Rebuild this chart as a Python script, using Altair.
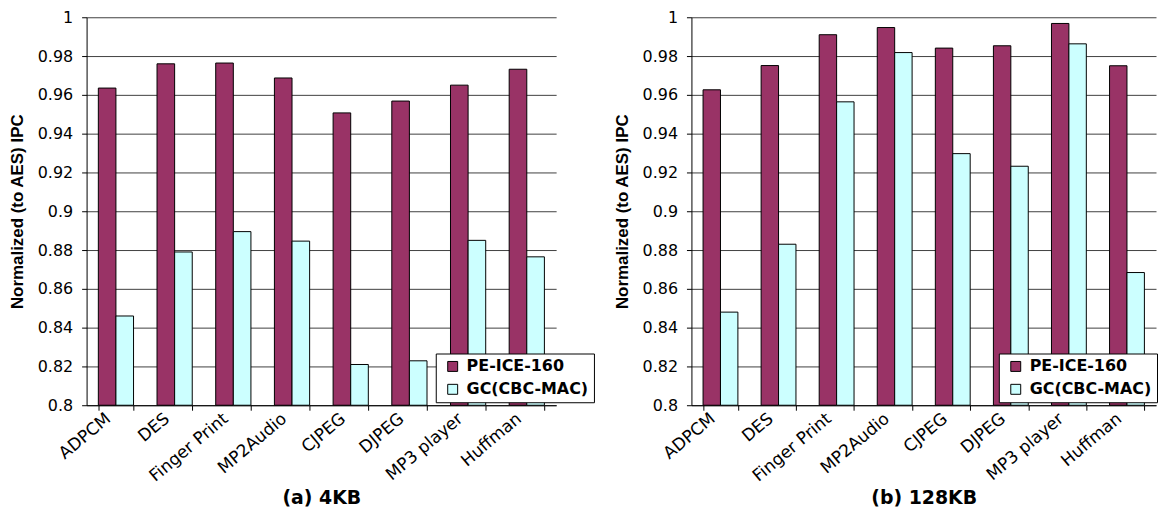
import altair as alt
import pandas as pd

categories = ["ADPCM", "DES", "Finger Print", "MP2Audio", "CJPEG", "DJPEG", "MP3 player", "Huffman"]
series = ["PE-ICE-160", "GC(CBC-MAC)"]
pe_4kb = [0.9635, 0.976, 0.9764, 0.9687, 0.9507, 0.9568, 0.965, 0.9732]
gc_4kb = [0.846, 0.879, 0.8895, 0.8846, 0.821, 0.8229, 0.885, 0.8765]
pe_128kb = [0.9626, 0.9751, 0.991, 0.9947, 0.9841, 0.9853, 0.9968, 0.975]
gc_128kb = [0.848, 0.883, 0.9564, 0.9818, 0.9297, 0.9232, 0.9863, 0.8684]
y_ticks = [0.8, 0.82, 0.84, 0.86, 0.88, 0.9, 0.92, 0.94, 0.96, 0.98, 1.0]
colors = ["#993366", "#CCFFFF"]
panel_titles = ["(a) 4KB", "(b) 128KB"]
y_title = "Normalized (to AES) IPC"


def panel(pe, gc, title, w, legend_x):
    df = pd.DataFrame({
        "category": categories * 2,
        "series": [series[0]] * len(categories) + [series[1]] * len(categories),
        "value": pe + gc,
    })
    return alt.Chart(df).mark_bar(stroke="black", strokeWidth=1).encode(
        x=alt.X("category:N", sort=categories,
                scale=alt.Scale(paddingInner=0.4, paddingOuter=0.2),
                axis=alt.Axis(title=title, labelAngle=-40, labelAlign="right",
                              labelBaseline="middle", labelOffset=-8, labelPadding=6,
                              tickBand="extent", tickSize=5, domainColor="black",
                              tickColor="black", labelFont="DejaVu Sans", labelFontSize=17,
                              labelColor="black", titleFont="DejaVu Sans", titleFontSize=19,
                              titleFontWeight="bold", titleColor="black", titlePadding=4,
                              grid=False)),
        xOffset=alt.XOffset("series:N", sort=series, scale=alt.Scale(domain=series)),
        y=alt.Y("value:Q", scale=alt.Scale(domain=[0.8, 1.0], nice=False, zero=False),
                axis=alt.Axis(values=y_ticks, format="~g", title=y_title,
                              titleFont="Liberation Sans", titleFontSize=17,
                              titleFontWeight="bold", titleColor="black", titlePadding=11,
                              labelFont="DejaVu Sans", labelFontSize=16, labelColor="black",
                              labelPadding=9, tickSize=5, tickColor="black",
                              domainColor="black", grid=True, gridColor="#404040",
                              gridWidth=1)),
        y2=alt.datum(0.8),
        color=alt.Color("series:N", scale=alt.Scale(domain=series, range=colors),
                        legend=alt.Legend(title=None, orient="none", legendX=legend_x,
                                          legendY=338, symbolType="square", symbolSize=100,
                                          symbolStrokeColor="black", symbolStrokeWidth=1,
                                          labelFont="DejaVu Sans", labelFontSize=16,
                                          labelFontWeight="bold", labelColor="black",
                                          strokeColor="black", fillColor="white",
                                          padding=5, rowPadding=7, symbolOffset=4,
                                          labelOffset=6, labelLimit=300)),
    ).properties(width=w, height=390)


left = panel(pe_4kb, gc_4kb, panel_titles[0], 472, 351)
right = panel(pe_128kb, gc_128kb, panel_titles[1], 467, 309)

chart = alt.hconcat(left, right, spacing=18).resolve_scale(
    color="independent", xOffset="independent"
).resolve_legend(color="independent").properties(
    padding={"left": 0, "top": 0, "right": 0, "bottom": 0}
).configure_view(stroke=None)

chart.save("out.html", embed_options={"renderer": "svg", "actions": False})
